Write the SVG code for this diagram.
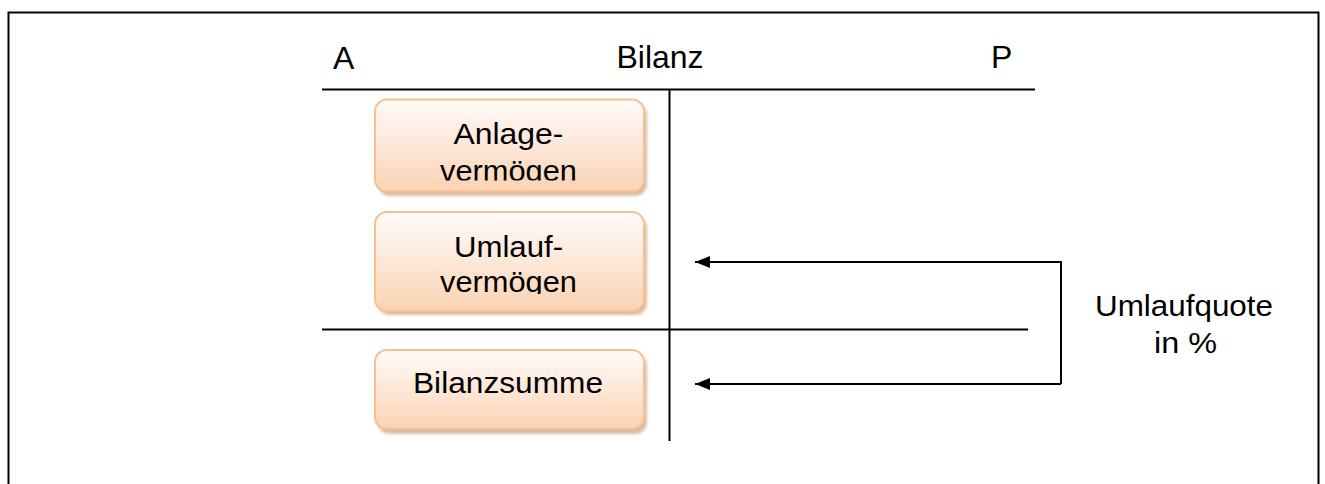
<svg xmlns="http://www.w3.org/2000/svg" width="1325" height="484" viewBox="0 0 1325 484">
<style>
.t{font-family:"Liberation Sans",Arial,sans-serif;fill:#000}
.hdr{font-size:32px}
.bx{font-size:29.5px}
.box{fill:url(#g);stroke:#f9bf8f;stroke-width:2}
.sh{fill:#c9a58a;opacity:0.75;filter:url(#blur)}
.ln{stroke:#000;stroke-width:2;fill:none}
</style>
<defs>
<linearGradient id="g" x1="0" y1="0" x2="0" y2="1">
<stop offset="0" stop-color="#fffbf8"/>
<stop offset="0.45" stop-color="#fde9dc"/>
<stop offset="1" stop-color="#fbd3b2"/>
</linearGradient>
<filter id="blur" x="-10%" y="-10%" width="120%" height="130%"><feGaussianBlur stdDeviation="1.5"/></filter>
<marker id="ah" markerWidth="16" markerHeight="12" refX="15" refY="6" orient="auto" markerUnits="userSpaceOnUse">
<path d="M0,0 L15,6 L0,12 Z" fill="#000"/>
</marker>
<clipPath id="c1"><rect x="375" y="100" width="269" height="80.5"/></clipPath>
<clipPath id="c2"><rect x="375" y="212" width="269" height="82"/></clipPath>
</defs>
<rect x="8.5" y="12.5" width="1310" height="500" fill="none" stroke="#000" stroke-width="2"/>
<g id="header">
<text class="t hdr" x="333" y="69">A</text>
<text class="t hdr" x="660" y="68" text-anchor="middle">Bilanz</text>
<text class="t hdr" x="991" y="68">P</text>
</g>
<g id="tlines">
<line class="ln" x1="322" y1="89.5" x2="1035" y2="89.5"/>
<line class="ln" x1="669.5" y1="89" x2="669.5" y2="441"/>
<line class="ln" x1="322" y1="329.5" x2="1028" y2="329.5"/>
</g>
<g id="anlage">
<rect class="sh" x="378" y="103" width="269" height="93" rx="12"/>
<rect class="box" x="375" y="99.5" width="269" height="92" rx="12"/>
<g clip-path="url(#c1)">
<text class="t bx" x="508.5" y="144" text-anchor="middle" textLength="110" lengthAdjust="spacingAndGlyphs">Anlage-</text>
<text class="t bx" x="508.5" y="181" text-anchor="middle" textLength="137" lengthAdjust="spacingAndGlyphs">vermögen</text>
</g>
</g>
<g id="umlauf">
<rect class="sh" x="378" y="216" width="269" height="99" rx="12"/>
<rect class="box" x="375" y="212" width="269" height="99" rx="12"/>
<g clip-path="url(#c2)">
<text class="t bx" x="508.5" y="257" text-anchor="middle" textLength="109" lengthAdjust="spacingAndGlyphs">Umlauf-</text>
<text class="t bx" x="508.5" y="292" text-anchor="middle" textLength="137" lengthAdjust="spacingAndGlyphs">vermögen</text>
</g>
</g>
<g id="summe">
<rect class="sh" x="378" y="354" width="269" height="80" rx="12"/>
<rect class="box" x="375" y="350" width="269" height="79" rx="12"/>
<text class="t bx" x="508" y="393" text-anchor="middle" textLength="190" lengthAdjust="spacingAndGlyphs">Bilanzsumme</text>
</g>
<g id="quote">
<text class="t bx" x="1184" y="316" text-anchor="middle" textLength="178" lengthAdjust="spacingAndGlyphs">Umlaufquote</text>
<text class="t bx" x="1185.5" y="353" text-anchor="middle" textLength="63" lengthAdjust="spacingAndGlyphs">in %</text>
</g>
<g id="connectors">
<polyline class="ln" points="1061,384 1061,262 695,262" marker-end="url(#ah)"/>
<line class="ln" x1="1061" y1="384" x2="695" y2="384" marker-end="url(#ah)"/>
</g>
</svg>
